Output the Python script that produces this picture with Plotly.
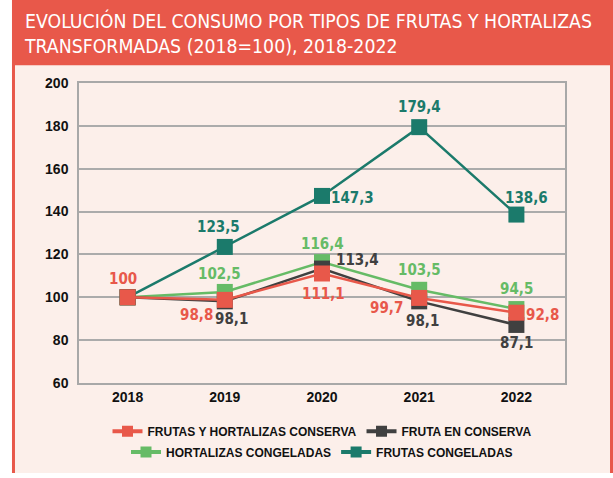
import plotly.graph_objects as go

years = ["2018", "2019", "2020", "2021", "2022"]
series_names = ["FRUTAS Y HORTALIZAS CONSERVA", "FRUTA EN CONSERVA",
                "HORTALIZAS CONGELADAS", "FRUTAS CONGELADAS"]
fyh_conserva = [100, 98.8, 111.1, 99.7, 92.8]
fruta_conserva = [100, 98.1, 113.4, 98.1, 87.1]
hort_congeladas = [100, 102.5, 116.4, 103.5, 94.5]
frutas_congeladas = [100, 123.5, 147.3, 179.4, 138.6]
y_ticks = [60, 80, 100, 120, 140, 160, 180, 200]

RED = "#E8584A"
DARK = "#404040"
GREEN = "#66BB66"
TEAL = "#1B7A6B"
PINK = "#FCEFEA"
COND = "Liberation Sans Narrow, DejaVu Sans Condensed, Roboto Condensed, Arial Narrow, Arial"

values = {
    series_names[0]: fyh_conserva,
    series_names[1]: fruta_conserva,
    series_names[2]: hort_congeladas,
    series_names[3]: frutas_congeladas,
}
colors = {series_names[0]: RED, series_names[1]: DARK,
          series_names[2]: GREEN, series_names[3]: TEAL}
legends = {series_names[0]: "legend", series_names[1]: "legend",
           series_names[2]: "legend2", series_names[3]: "legend2"}

# label offsets (pixels, right/down) per series per year; None = no label
offsets = {
    series_names[0]: [(-5, -18), (-28, 15), (1, 20), (-33, 10), (26, 2)],
    series_names[1]: [None, (7, 18), (35, -9), (3, 20), (0, 18)],
    series_names[2]: [None, (-5, -18), (0, -18), (0, -20), (0, -20)],
    series_names[3]: [None, (-6, -20), (30, 2), (0, -20), (10, -17)],
}

fig = go.Figure()
for name in [series_names[3], series_names[2], series_names[1], series_names[0]]:
    fig.add_trace(go.Scatter(
        x=years, y=values[name], name=name, mode="lines+markers",
        line=dict(color=colors[name], width=2.5),
        marker=dict(symbol="square", size=16, color=colors[name]),
        showlegend=False, hoverinfo="skip",
    ))
# legend entries (smaller symbol than the plotted markers)
for rank, name in enumerate(series_names):
    fig.add_trace(go.Scatter(
        x=[None], y=[None], name=name, mode="lines+markers",
        line=dict(color=colors[name], width=4),
        marker=dict(symbol="square", size=11, color=colors[name]),
        legend=legends[name], legendrank=rank + 1,
    ))

annotations = []
for name in series_names:
    for i, (v, off) in enumerate(zip(values[name], offsets[name])):
        if off is None:
            continue
        annotations.append(dict(
            x=i, y=v, xref="x", yref="y",
            text=("%g" % v).replace(".", ","), showarrow=False,
            xshift=off[0], yshift=-off[1],
            font=dict(family=COND, size=15, color=colors[name], weight="bold"),
        ))

annotations.append(dict(
    x=-0.1173, y=1.2525, xref="paper", yref="paper", xanchor="left", yanchor="top",
    align="left", showarrow=False,
    text="EVOLUCIÓN DEL CONSUMO POR TIPOS DE FRUTAS Y HORTALIZAS<br>TRANSFORMADAS (2018=100), 2018-2022",
    font=dict(family=COND, size=19.3, color="white"),
))

shapes = [
    dict(type="rect", xref="paper", yref="paper", x0=-0.1379, x1=1.0988, y0=-0.3, y1=1.06,
         fillcolor=PINK, line=dict(width=0), layer="below"),
    dict(type="line", xref="paper", yref="paper", x0=-0.1348, x1=-0.1348, y0=-0.3, y1=1.06,
         line=dict(color=RED, width=3), layer="below"),
    dict(type="line", xref="paper", yref="paper", x0=1.0957, x1=1.0957, y0=-0.3, y1=1.06,
         line=dict(color=RED, width=3), layer="below"),
    dict(type="rect", xref="paper", yref="paper", x0=-0.1379, x1=1.0988, y0=1.059, y1=1.28,
         fillcolor=RED, line=dict(width=0), layer="below"),
]

legend_font = dict(family="Liberation Sans, Arial", size=12, color="#111111", weight="bold")
fig.update_layout(
    width=613, height=478,
    margin=dict(l=79, r=48, t=83, b=90),
    paper_bgcolor="white", plot_bgcolor=PINK,
    showlegend=True,
    legend=dict(orientation="h", x=0.5, xanchor="center", y=-0.161, yanchor="middle",
                bgcolor="rgba(0,0,0,0)", font=legend_font, itemwidth=30,
                traceorder="normal"),
    legend2=dict(orientation="h", x=0.5, xanchor="center", y=-0.230, yanchor="middle",
                 bgcolor="rgba(0,0,0,0)", font=legend_font, itemwidth=30,
                 traceorder="normal"),
    xaxis=dict(type="category", range=[-0.5, 4.5], showgrid=False, showline=True,
               mirror=True, linecolor="#A8A8A8", linewidth=1.5, ticks="",
               tickfont=dict(family="Liberation Sans, Arial", size=14, color="#111111", weight="bold")),
    yaxis=dict(range=[60, 200], tickvals=y_ticks, showgrid=True, gridcolor="#ABABAB",
               gridwidth=1.5, showline=True, mirror=True, linecolor="#A8A8A8", linewidth=1.5,
               zeroline=False, ticks="", ticklabelstandoff=6,
               tickfont=dict(family="Liberation Sans, Arial", size=14, color="#111111", weight="bold")),
    annotations=annotations,
    shapes=shapes,
)

fig.write_html("out.html", config={"displayModeBar": False},
               post_script="document.body.style.margin='0';document.body.style.overflow='hidden';")
